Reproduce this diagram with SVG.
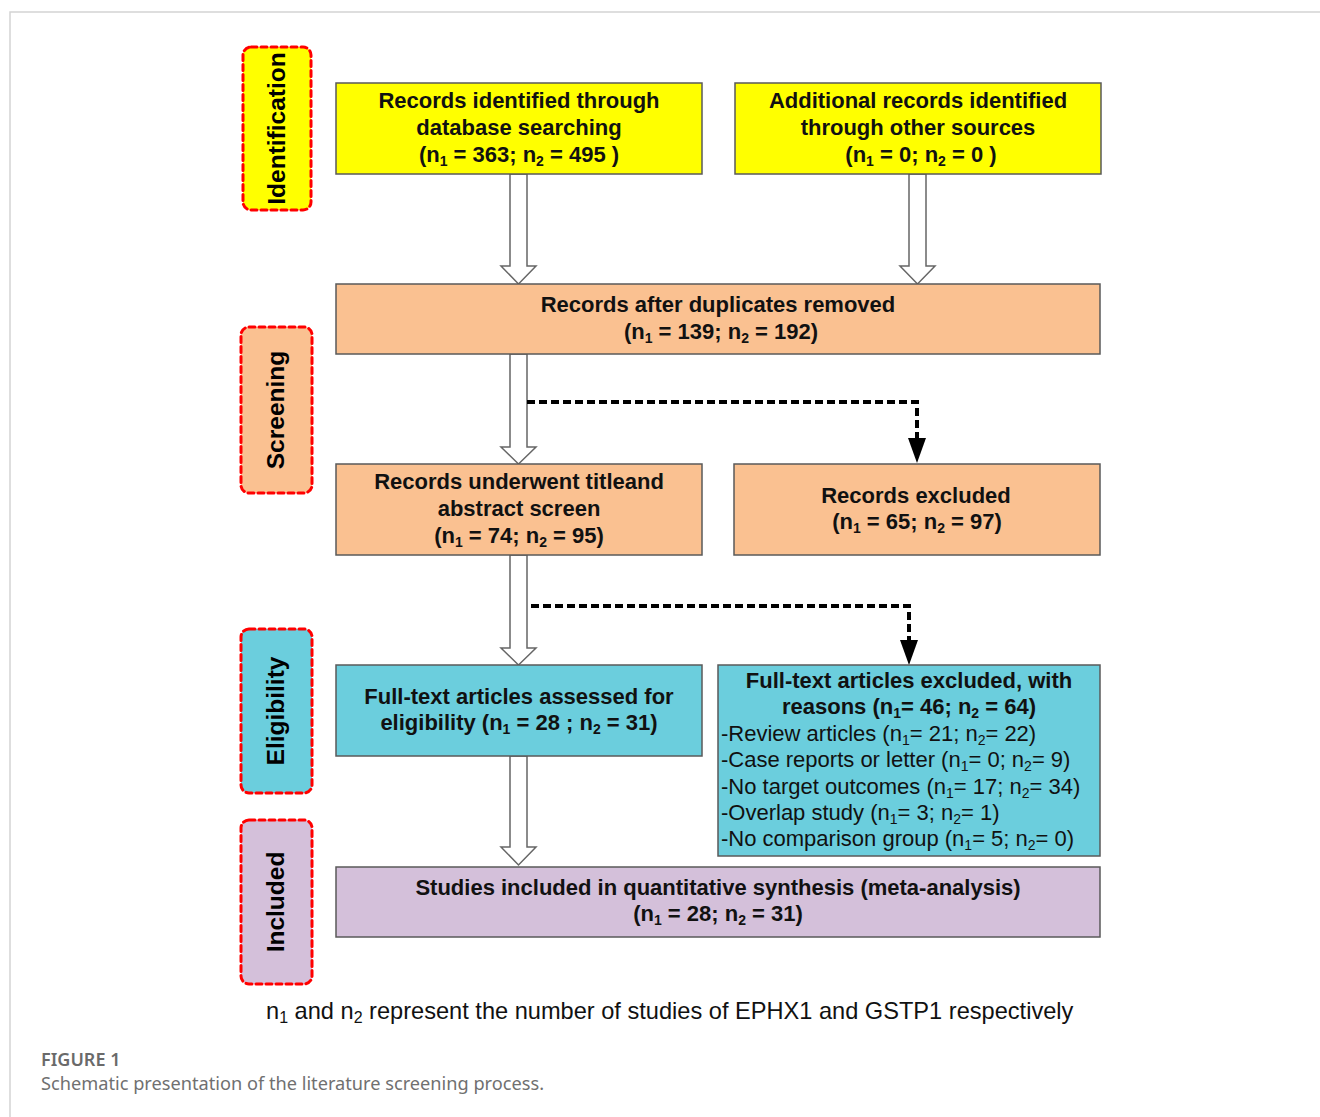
<svg xmlns="http://www.w3.org/2000/svg" width="1320" height="1117" viewBox="0 0 1320 1117">
<style>
.frame{fill:#fff;stroke:#d4d4d4;stroke-width:1.5}
.stage{stroke:#ff0000;stroke-width:3;stroke-dasharray:6 4;stroke-linecap:round}
.stxt{font-family:"Liberation Sans",Arial,sans-serif;font-weight:bold;font-size:24.5px;fill:#000;text-anchor:middle}
.box{stroke:#5a5a5a;stroke-width:1.5}
.yel{fill:#ffff00}
.org{fill:#fac191}
.cyn{fill:#6bcedd}
.pur{fill:#d4c0da}
.bt{font-family:"Liberation Sans",Arial,sans-serif;font-weight:bold;font-size:22px;fill:#111;text-anchor:middle}
.nt{font-family:"Liberation Sans",Arial,sans-serif;font-size:22px;fill:#111}
.hollow{fill:#fff;stroke:#666;stroke-width:1.5}
.dash{fill:none;stroke:#000;stroke-width:4;stroke-dasharray:8 4}
.foot{font-family:"Liberation Sans",Arial,sans-serif;font-size:23.6px;fill:#111}
.cap1{font-family:"Noto Sans","Open Sans",sans-serif;font-size:18px;font-weight:600;fill:#6a6a6a}
.cap2{font-family:"Noto Sans","Open Sans",sans-serif;font-size:18.2px;fill:#707070}
</style>
<rect x="10" y="12" width="1330" height="1120" class="frame"/>

<g id="stage-identification">
<rect x="243" y="47" width="68" height="163" rx="8" class="stage yel"/>
<text class="stxt" transform="translate(285,128.5) rotate(-90)">Identification</text>
</g>
<g id="stage-screening">
<rect x="241" y="327" width="71" height="166" rx="8" class="stage org"/>
<text class="stxt" transform="translate(284,410) rotate(-90)">Screening</text>
</g>
<g id="stage-eligibility">
<rect x="241" y="629" width="71" height="164" rx="8" class="stage cyn"/>
<text class="stxt" transform="translate(284,711) rotate(-90)">Eligibility</text>
</g>
<g id="stage-included">
<rect x="241" y="820" width="71" height="164" rx="8" class="stage pur"/>
<text class="stxt" transform="translate(284,902) rotate(-90)">Included</text>
</g>

<g id="connectors">
<path class="hollow" d="M510,174 L527,174 L527,266 L536,266 L518.5,284 L501,266 L510,266 Z"/>
<path class="hollow" d="M909,174 L926,174 L926,266 L935,266 L917.5,284 L900,266 L909,266 Z"/>
<path class="hollow" d="M510,354 L527,354 L527,447 L536,447 L518.5,464 L501,447 L510,447 Z"/>
<path class="hollow" d="M510,555 L527,555 L527,648 L536,648 L518.5,665 L501,648 L510,648 Z"/>
<path class="hollow" d="M510,756 L527,756 L527,847 L536,847 L518.5,865 L501,847 L510,847 Z"/>
<path class="dash" d="M527,402 L917,402 L917,438"/>
<path d="M908,438 L926,438 L917,463 Z" fill="#000"/>
<path class="dash" d="M531,606 L909,606 L909,640"/>
<path d="M900,640 L918,640 L909,665 Z" fill="#000"/>
</g>

<g id="n-db">
<rect x="336" y="83" width="366" height="91" class="box yel"/>
<text class="bt" x="519" y="108">Records identified through</text>
<text class="bt" x="519" y="135">database searching</text>
<text class="bt" x="519" y="162">(n<tspan dy="4" font-size="14">1</tspan><tspan dy="-4"> = 363; n</tspan><tspan dy="4" font-size="14">2</tspan><tspan dy="-4"> = 495 )</tspan></text>
</g>
<g id="n-other">
<rect x="735" y="83" width="366" height="91" class="box yel"/>
<text class="bt" x="918" y="108">Additional records identified</text>
<text class="bt" x="918" y="135">through other sources</text>
<text class="bt" x="921" y="162">(n<tspan dy="4" font-size="14">1</tspan><tspan dy="-4"> = 0; n</tspan><tspan dy="4" font-size="14">2</tspan><tspan dy="-4"> = 0 )</tspan></text>
</g>
<g id="n-dup">
<rect x="336" y="284" width="764" height="70" class="box org"/>
<text class="bt" x="718" y="312">Records after duplicates removed</text>
<text class="bt" x="721" y="339">(n<tspan dy="4" font-size="14">1</tspan><tspan dy="-4"> = 139; n</tspan><tspan dy="4" font-size="14">2</tspan><tspan dy="-4"> = 192)</tspan></text>
</g>
<g id="n-screen">
<rect x="336" y="464" width="366" height="91" class="box org"/>
<text class="bt" x="519" y="489">Records underwent titleand</text>
<text class="bt" x="519" y="516">abstract screen</text>
<text class="bt" x="519" y="543">(n<tspan dy="4" font-size="14">1</tspan><tspan dy="-4"> = 74; n</tspan><tspan dy="4" font-size="14">2</tspan><tspan dy="-4"> = 95)</tspan></text>
</g>
<g id="n-excl">
<rect x="734" y="464" width="366" height="91" class="box org"/>
<text class="bt" x="916" y="503">Records excluded</text>
<text class="bt" x="917" y="529">(n<tspan dy="4" font-size="14">1</tspan><tspan dy="-4"> = 65; n</tspan><tspan dy="4" font-size="14">2</tspan><tspan dy="-4"> = 97)</tspan></text>
</g>
<g id="n-full">
<rect x="336" y="665" width="366" height="91" class="box cyn"/>
<text class="bt" x="519" y="704">Full-text articles assessed for</text>
<text class="bt" x="519" y="730">eligibility (n<tspan dy="4" font-size="14">1</tspan><tspan dy="-4"> = 28 ; n</tspan><tspan dy="4" font-size="14">2</tspan><tspan dy="-4"> = 31)</tspan></text>
</g>
<g id="n-fullexcl">
<rect x="718" y="665" width="382" height="191" class="box cyn"/>
<text class="bt" x="909" y="688">Full-text articles excluded, with</text>
<text class="bt" x="909" y="714">reasons (n<tspan dy="4" font-size="14">1</tspan><tspan dy="-4">= 46; n</tspan><tspan dy="4" font-size="14">2</tspan><tspan dy="-4"> = 64)</tspan></text>
<text class="nt" x="721" y="741">-Review articles  (n<tspan dy="4" font-size="14">1</tspan><tspan dy="-4">= 21; n</tspan><tspan dy="4" font-size="14">2</tspan><tspan dy="-4">= 22)</tspan></text>
<text class="nt" x="721" y="767">-Case reports or letter (n<tspan dy="4" font-size="14">1</tspan><tspan dy="-4">= 0; n</tspan><tspan dy="4" font-size="14">2</tspan><tspan dy="-4">= 9)</tspan></text>
<text class="nt" x="721" y="794">-No target outcomes (n<tspan dy="4" font-size="14">1</tspan><tspan dy="-4">= 17; n</tspan><tspan dy="4" font-size="14">2</tspan><tspan dy="-4">= 34)</tspan></text>
<text class="nt" x="721" y="820">-Overlap study (n<tspan dy="4" font-size="14">1</tspan><tspan dy="-4">= 3; n</tspan><tspan dy="4" font-size="14">2</tspan><tspan dy="-4">= 1)</tspan></text>
<text class="nt" x="721" y="846">-No comparison group (n<tspan dy="4" font-size="14">1</tspan><tspan dy="-4">= 5; n</tspan><tspan dy="4" font-size="14">2</tspan><tspan dy="-4">= 0)</tspan></text>
</g>
<g id="n-incl">
<rect x="336" y="867" width="764" height="70" class="box pur"/>
<text class="bt" x="718" y="895">Studies included in quantitative synthesis (meta-analysis)</text>
<text class="bt" x="718" y="921">(n<tspan dy="4" font-size="14">1</tspan><tspan dy="-4"> = 28; n</tspan><tspan dy="4" font-size="14">2</tspan><tspan dy="-4"> = 31)</tspan></text>
</g>

<text class="foot" x="266" y="1019">n<tspan dy="4" font-size="16">1</tspan><tspan dy="-4"> and n</tspan><tspan dy="4" font-size="16">2</tspan><tspan dy="-4"> represent the number of studies of EPHX1 and GSTP1 respectively</tspan></text>
<text class="cap1" x="41" y="1066">FIGURE 1</text>
<text class="cap2" x="41" y="1090">Schematic presentation of the literature screening process.</text>
</svg>
